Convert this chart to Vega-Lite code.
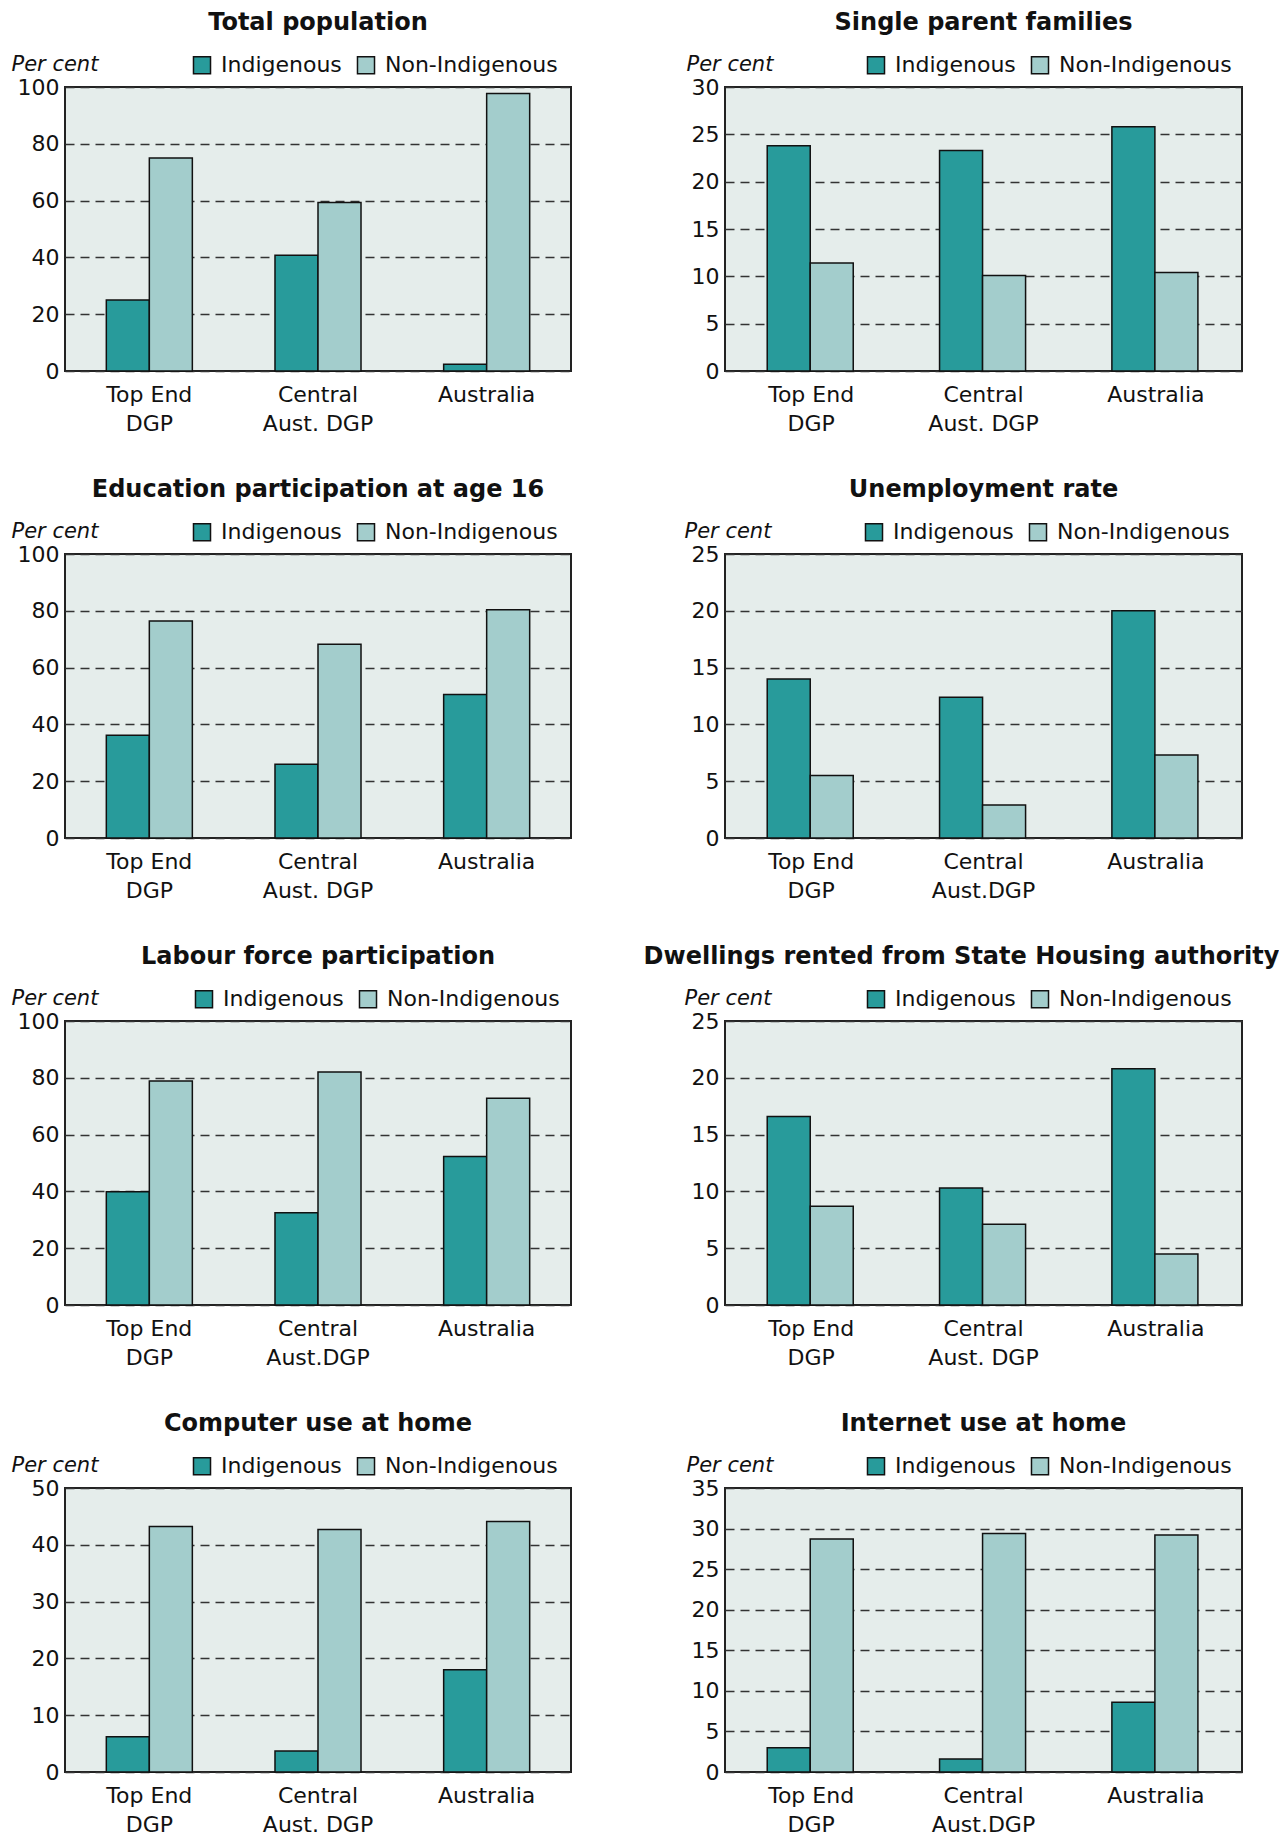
{
  "$schema": "https://vega.github.io/schema/vega-lite/v6.json",
  "background": "white",
  "padding": {"left": 10, "top": 10, "right": 2, "bottom": 4},
  "config": {
    "font": "DejaVu Sans",
    "view": {"fill": "#e5edeb", "stroke": "#222222", "strokeWidth": 2},
    "bar": {"stroke": "#111111", "strokeWidth": 1.5},
    "title": {"fontSize": 24, "fontWeight": "bold", "font": "DejaVu Sans", "color": "#111111", "offset": 18, "frame": "group"},
    "axis": {
      "labelFontSize": 22, "labelColor": "#111111", "ticks": false, "domain": false,
      "labelFont": "DejaVu Sans"
    },
    "axisX": {"labelPadding": 13, "labelLineHeight": 29, "grid": false},
    "axisY": {
      "labelPadding": 6, "grid": true, "gridColor": "#333333", "gridDash": [9, 6], "gridWidth": 1.5,
      "titleAngle": 0, "titleAlign": "left", "titleBaseline": "alphabetic", "titleFontStyle": "italic",
      "titleFontWeight": "normal", "titleFontSize": 21, "titleFont": "DejaVu Sans", "titleColor": "#111111", "titleY": -17
    },
    "legend": {
      "labelFontSize": 22, "labelFont": "DejaVu Sans", "labelColor": "#111111", "labelLimit": 0, "symbolType": "square", "symbolSize": 290,
      "symbolStrokeColor": "#111111", "symbolStrokeWidth": 1.5, "symbolOpacity": 1,
      "columnPadding": 12, "labelOffset": 8, "orient": "none", "direction": "horizontal", "legendY": -33
    }
  },
  "data": {"values": [
    {"chart": "Total population", "region": "Top End|DGP", "group": "Indigenous", "value": 25.0},
    {"chart": "Total population", "region": "Top End|DGP", "group": "Non-Indigenous", "value": 75.0},
    {"chart": "Total population", "region": "Central|Aust. DGP", "group": "Indigenous", "value": 40.8},
    {"chart": "Total population", "region": "Central|Aust. DGP", "group": "Non-Indigenous", "value": 59.3},
    {"chart": "Total population", "region": "Australia", "group": "Indigenous", "value": 2.4},
    {"chart": "Total population", "region": "Australia", "group": "Non-Indigenous", "value": 97.7},
    {"chart": "Single parent families", "region": "Top End|DGP", "group": "Indigenous", "value": 23.8},
    {"chart": "Single parent families", "region": "Top End|DGP", "group": "Non-Indigenous", "value": 11.4},
    {"chart": "Single parent families", "region": "Central|Aust. DGP", "group": "Indigenous", "value": 23.3},
    {"chart": "Single parent families", "region": "Central|Aust. DGP", "group": "Non-Indigenous", "value": 10.1},
    {"chart": "Single parent families", "region": "Australia", "group": "Indigenous", "value": 25.8},
    {"chart": "Single parent families", "region": "Australia", "group": "Non-Indigenous", "value": 10.4},
    {"chart": "Education participation at age 16", "region": "Top End|DGP", "group": "Indigenous", "value": 36.2},
    {"chart": "Education participation at age 16", "region": "Top End|DGP", "group": "Non-Indigenous", "value": 76.4},
    {"chart": "Education participation at age 16", "region": "Central|Aust. DGP", "group": "Indigenous", "value": 26.0},
    {"chart": "Education participation at age 16", "region": "Central|Aust. DGP", "group": "Non-Indigenous", "value": 68.2},
    {"chart": "Education participation at age 16", "region": "Australia", "group": "Indigenous", "value": 50.5},
    {"chart": "Education participation at age 16", "region": "Australia", "group": "Non-Indigenous", "value": 80.4},
    {"chart": "Unemployment rate", "region": "Top End|DGP", "group": "Indigenous", "value": 14.0},
    {"chart": "Unemployment rate", "region": "Top End|DGP", "group": "Non-Indigenous", "value": 5.5},
    {"chart": "Unemployment rate", "region": "Central|Aust.DGP", "group": "Indigenous", "value": 12.4},
    {"chart": "Unemployment rate", "region": "Central|Aust.DGP", "group": "Non-Indigenous", "value": 2.9},
    {"chart": "Unemployment rate", "region": "Australia", "group": "Indigenous", "value": 20.0},
    {"chart": "Unemployment rate", "region": "Australia", "group": "Non-Indigenous", "value": 7.3},
    {"chart": "Labour force participation", "region": "Top End|DGP", "group": "Indigenous", "value": 39.9},
    {"chart": "Labour force participation", "region": "Top End|DGP", "group": "Non-Indigenous", "value": 78.9},
    {"chart": "Labour force participation", "region": "Central|Aust.DGP", "group": "Indigenous", "value": 32.5},
    {"chart": "Labour force participation", "region": "Central|Aust.DGP", "group": "Non-Indigenous", "value": 82.0},
    {"chart": "Labour force participation", "region": "Australia", "group": "Indigenous", "value": 52.3},
    {"chart": "Labour force participation", "region": "Australia", "group": "Non-Indigenous", "value": 72.8},
    {"chart": "Dwellings rented from State Housing authority", "region": "Top End|DGP", "group": "Indigenous", "value": 16.6},
    {"chart": "Dwellings rented from State Housing authority", "region": "Top End|DGP", "group": "Non-Indigenous", "value": 8.7},
    {"chart": "Dwellings rented from State Housing authority", "region": "Central|Aust. DGP", "group": "Indigenous", "value": 10.3},
    {"chart": "Dwellings rented from State Housing authority", "region": "Central|Aust. DGP", "group": "Non-Indigenous", "value": 7.1},
    {"chart": "Dwellings rented from State Housing authority", "region": "Australia", "group": "Indigenous", "value": 20.8},
    {"chart": "Dwellings rented from State Housing authority", "region": "Australia", "group": "Non-Indigenous", "value": 4.5},
    {"chart": "Computer use at home", "region": "Top End|DGP", "group": "Indigenous", "value": 6.2},
    {"chart": "Computer use at home", "region": "Top End|DGP", "group": "Non-Indigenous", "value": 43.2},
    {"chart": "Computer use at home", "region": "Central|Aust. DGP", "group": "Indigenous", "value": 3.7},
    {"chart": "Computer use at home", "region": "Central|Aust. DGP", "group": "Non-Indigenous", "value": 42.7},
    {"chart": "Computer use at home", "region": "Australia", "group": "Indigenous", "value": 18.0},
    {"chart": "Computer use at home", "region": "Australia", "group": "Non-Indigenous", "value": 44.1},
    {"chart": "Internet use at home", "region": "Top End|DGP", "group": "Indigenous", "value": 3.0},
    {"chart": "Internet use at home", "region": "Top End|DGP", "group": "Non-Indigenous", "value": 28.7},
    {"chart": "Internet use at home", "region": "Central|Aust.DGP", "group": "Indigenous", "value": 1.6},
    {"chart": "Internet use at home", "region": "Central|Aust.DGP", "group": "Non-Indigenous", "value": 29.4},
    {"chart": "Internet use at home", "region": "Australia", "group": "Indigenous", "value": 8.6},
    {"chart": "Internet use at home", "region": "Australia", "group": "Non-Indigenous", "value": 29.2}
  ]},
  "columns": 2,
  "bounds": "flush",
  "spacing": {"row": 183, "column": 154},
  "resolve": {"scale": {"color": "independent"}, "legend": {"color": "independent"}},
  "concat": [
    {
      "width": 506, "height": 284,
      "title": "Total population",
      "transform": [{"filter": "datum.chart == 'Total population'"}],
      "mark": "bar",
      "encoding": {
        "x": {"field": "region", "type": "nominal", "sort": null, "scale": {"paddingInner": 0.49, "paddingOuter": 0.245}, "axis": {"title": null, "labelAngle": 0, "labelExpr": "split(datum.label, '|')"}},
        "xOffset": {"field": "group", "type": "nominal", "sort": ["Indigenous", "Non-Indigenous"]},
        "y": {"field": "value", "type": "quantitative", "scale": {"domain": [0, 100], "nice": false}, "axis": {"values": [0, 20, 40, 60, 80, 100], "title": "Per cent", "titleX": -54}},
        "color": {"field": "group", "type": "nominal", "scale": {"domain": ["Indigenous", "Non-Indigenous"], "range": ["#289b9b", "#a3cdcc"]}, "legend": {"title": null, "legendX": 126}}
      }
    },
    {
      "width": 517, "height": 284,
      "title": "Single parent families",
      "transform": [{"filter": "datum.chart == 'Single parent families'"}],
      "mark": "bar",
      "encoding": {
        "x": {"field": "region", "type": "nominal", "sort": null, "scale": {"paddingInner": 0.49, "paddingOuter": 0.245}, "axis": {"title": null, "labelAngle": 0, "labelExpr": "split(datum.label, '|')"}},
        "xOffset": {"field": "group", "type": "nominal", "sort": ["Indigenous", "Non-Indigenous"]},
        "y": {"field": "value", "type": "quantitative", "scale": {"domain": [0, 30], "nice": false}, "axis": {"values": [0, 5, 10, 15, 20, 25, 30], "title": "Per cent", "titleX": -39}},
        "color": {"field": "group", "type": "nominal", "scale": {"domain": ["Indigenous", "Non-Indigenous"], "range": ["#289b9b", "#a3cdcc"]}, "legend": {"title": null, "legendX": 140}}
      }
    },
    {
      "width": 506, "height": 284,
      "title": "Education participation at age 16",
      "transform": [{"filter": "datum.chart == 'Education participation at age 16'"}],
      "mark": "bar",
      "encoding": {
        "x": {"field": "region", "type": "nominal", "sort": null, "scale": {"paddingInner": 0.49, "paddingOuter": 0.245}, "axis": {"title": null, "labelAngle": 0, "labelExpr": "split(datum.label, '|')"}},
        "xOffset": {"field": "group", "type": "nominal", "sort": ["Indigenous", "Non-Indigenous"]},
        "y": {"field": "value", "type": "quantitative", "scale": {"domain": [0, 100], "nice": false}, "axis": {"values": [0, 20, 40, 60, 80, 100], "title": "Per cent", "titleX": -54}},
        "color": {"field": "group", "type": "nominal", "scale": {"domain": ["Indigenous", "Non-Indigenous"], "range": ["#289b9b", "#a3cdcc"]}, "legend": {"title": null, "legendX": 126}}
      }
    },
    {
      "width": 517, "height": 284,
      "title": "Unemployment rate",
      "transform": [{"filter": "datum.chart == 'Unemployment rate'"}],
      "mark": "bar",
      "encoding": {
        "x": {"field": "region", "type": "nominal", "sort": null, "scale": {"paddingInner": 0.49, "paddingOuter": 0.245}, "axis": {"title": null, "labelAngle": 0, "labelExpr": "split(datum.label, '|')"}},
        "xOffset": {"field": "group", "type": "nominal", "sort": ["Indigenous", "Non-Indigenous"]},
        "y": {"field": "value", "type": "quantitative", "scale": {"domain": [0, 25], "nice": false}, "axis": {"values": [0, 5, 10, 15, 20, 25], "title": "Per cent", "titleX": -41}},
        "color": {"field": "group", "type": "nominal", "scale": {"domain": ["Indigenous", "Non-Indigenous"], "range": ["#289b9b", "#a3cdcc"]}, "legend": {"title": null, "legendX": 138}}
      }
    },
    {
      "width": 506, "height": 284,
      "title": "Labour force participation",
      "transform": [{"filter": "datum.chart == 'Labour force participation'"}],
      "mark": "bar",
      "encoding": {
        "x": {"field": "region", "type": "nominal", "sort": null, "scale": {"paddingInner": 0.49, "paddingOuter": 0.245}, "axis": {"title": null, "labelAngle": 0, "labelExpr": "split(datum.label, '|')"}},
        "xOffset": {"field": "group", "type": "nominal", "sort": ["Indigenous", "Non-Indigenous"]},
        "y": {"field": "value", "type": "quantitative", "scale": {"domain": [0, 100], "nice": false}, "axis": {"values": [0, 20, 40, 60, 80, 100], "title": "Per cent", "titleX": -54}},
        "color": {"field": "group", "type": "nominal", "scale": {"domain": ["Indigenous", "Non-Indigenous"], "range": ["#289b9b", "#a3cdcc"]}, "legend": {"title": null, "legendX": 128}}
      }
    },
    {
      "width": 517, "height": 284,
      "title": {"text": "Dwellings rented from State Housing authority", "dx": -22},
      "transform": [{"filter": "datum.chart == 'Dwellings rented from State Housing authority'"}],
      "mark": "bar",
      "encoding": {
        "x": {"field": "region", "type": "nominal", "sort": null, "scale": {"paddingInner": 0.49, "paddingOuter": 0.245}, "axis": {"title": null, "labelAngle": 0, "labelExpr": "split(datum.label, '|')"}},
        "xOffset": {"field": "group", "type": "nominal", "sort": ["Indigenous", "Non-Indigenous"]},
        "y": {"field": "value", "type": "quantitative", "scale": {"domain": [0, 25], "nice": false}, "axis": {"values": [0, 5, 10, 15, 20, 25], "title": "Per cent", "titleX": -41}},
        "color": {"field": "group", "type": "nominal", "scale": {"domain": ["Indigenous", "Non-Indigenous"], "range": ["#289b9b", "#a3cdcc"]}, "legend": {"title": null, "legendX": 140}}
      }
    },
    {
      "width": 506, "height": 284,
      "title": "Computer use at home",
      "transform": [{"filter": "datum.chart == 'Computer use at home'"}],
      "mark": "bar",
      "encoding": {
        "x": {"field": "region", "type": "nominal", "sort": null, "scale": {"paddingInner": 0.49, "paddingOuter": 0.245}, "axis": {"title": null, "labelAngle": 0, "labelExpr": "split(datum.label, '|')"}},
        "xOffset": {"field": "group", "type": "nominal", "sort": ["Indigenous", "Non-Indigenous"]},
        "y": {"field": "value", "type": "quantitative", "scale": {"domain": [0, 50], "nice": false}, "axis": {"values": [0, 10, 20, 30, 40, 50], "title": "Per cent", "titleX": -54}},
        "color": {"field": "group", "type": "nominal", "scale": {"domain": ["Indigenous", "Non-Indigenous"], "range": ["#289b9b", "#a3cdcc"]}, "legend": {"title": null, "legendX": 126}}
      }
    },
    {
      "width": 517, "height": 284,
      "title": "Internet use at home",
      "transform": [{"filter": "datum.chart == 'Internet use at home'"}],
      "mark": "bar",
      "encoding": {
        "x": {"field": "region", "type": "nominal", "sort": null, "scale": {"paddingInner": 0.49, "paddingOuter": 0.245}, "axis": {"title": null, "labelAngle": 0, "labelExpr": "split(datum.label, '|')"}},
        "xOffset": {"field": "group", "type": "nominal", "sort": ["Indigenous", "Non-Indigenous"]},
        "y": {"field": "value", "type": "quantitative", "scale": {"domain": [0, 35], "nice": false}, "axis": {"values": [0, 5, 10, 15, 20, 25, 30, 35], "title": "Per cent", "titleX": -39}},
        "color": {"field": "group", "type": "nominal", "scale": {"domain": ["Indigenous", "Non-Indigenous"], "range": ["#289b9b", "#a3cdcc"]}, "legend": {"title": null, "legendX": 140}}
      }
    }
  ]
}
